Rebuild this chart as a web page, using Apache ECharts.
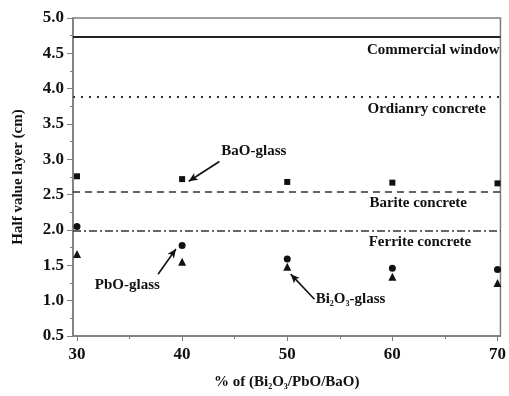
<!DOCTYPE html>
<html>
<head>
<meta charset="utf-8">
<script src="https://cdn.jsdelivr.net/npm/echarts@6/dist/echarts.min.js"></script>
<style>
  html, body { margin: 0; padding: 0; background: #fff; }
  #chart { width: 509px; height: 396px; }
</style>
</head>
<body>
<div id="chart"></div>
<script>
// composition (% of Bi2O3 / PbO / BaO)
var compositions = [30, 40, 50, 60, 70];
// half value layer (cm) for each glass
var baoGlass = [2.76, 2.72, 2.68, 2.67, 2.66];
var pboGlass = [2.05, 1.78, 1.59, 1.46, 1.44];
var biGlass  = [1.66, 1.55, 1.48, 1.34, 1.25];

// reference materials
var refNames  = ['Commercial window', 'Ordianry concrete', 'Barite concrete', 'Ferrite concrete'];
var refValues = [4.74, 3.88, 2.54, 1.99];

var xTicks = [30, 40, 50, 60, 70];
var xMinorTicks = [35, 45, 55, 65];

var FONT = '"Liberation Serif", "DejaVu Serif", serif';
var AXIS_COLOR = '#7d7d7d';

document.addEventListener('DOMContentLoaded', function () {
    var dom = document.getElementById('chart');
    var chart = echarts.init(dom, null, { renderer: 'canvas' });

    function pairs(vals) {
        return compositions.map(function (c, i) { return [c, vals[i]]; });
    }

    // line styles of the reference lines
    var refStyles = [
        { type: 'solid', width: 2, color: '#222' },
        { type: [2, 6], width: 2, color: '#333' },
        { type: [7, 5], width: 1.6, color: '#333' },
        { type: [8, 3, 2, 3], width: 1.6, color: '#333' }
    ];
    var refMarks = refValues.map(function (v, i) {
        return { yAxis: v, lineStyle: refStyles[i] };
    });

    // arrows pointing at the glass series (data coords: tail -> head)
    var arrows = [
        [[43.55, 2.97], [40.63, 2.69]],
        [[37.71, 1.375], [39.41, 1.73]],
        [[52.59, 1.02], [50.33, 1.375]]
    ];
    var arrowMarks = arrows.map(function (a) {
        return [
            { coord: a[0], symbol: 'none' },
            { coord: a[1], symbol: 'arrow', symbolSize: [6, 9] }
        ];
    });

    var markerStyle = { color: '#111', opacity: 1 };

    var option = {
        animation: false,
        grid: {
            left: 73, right: 4, top: 18, bottom: 59,
            show: true, borderColor: AXIS_COLOR, borderWidth: 1.5
        },
        xAxis: [
            {
                type: 'value',
                min: 29.62, max: 70.28,
                axisLine: { show: true, lineStyle: { color: AXIS_COLOR, width: 1.5 } },
                axisTick: { show: true, customValues: xTicks, length: 5, lineStyle: { color: AXIS_COLOR } },
                axisLabel: {
                    customValues: xTicks, margin: 10,
                    fontFamily: FONT, fontWeight: 'bold', fontSize: 17, color: '#111'
                },
                splitLine: { show: false },
                name: '% of (Bi{sub|2}O{sub|3}/PbO/BaO)',
                nameLocation: 'middle',
                nameGap: 38,
                nameTextStyle: {
                    fontFamily: FONT, fontWeight: 'bold', fontSize: 15, color: '#111',
                    rich: { sub: { fontFamily: FONT, fontWeight: 'bold', fontSize: 8, color: '#111', verticalAlign: 'bottom', padding: [9, 0, 0, 0] } }
                }
            },
            {
                type: 'value',
                min: 29.62, max: 70.28,
                position: 'bottom',
                axisLine: { show: false },
                axisTick: { show: true, customValues: xMinorTicks, length: 3, lineStyle: { color: AXIS_COLOR } },
                axisLabel: { show: false },
                splitLine: { show: false }
            }
        ],
        yAxis: {
            type: 'value',
            min: 0.5, max: 5.0, interval: 0.5,
            axisLine: { show: true, lineStyle: { color: AXIS_COLOR, width: 1.5 } },
            axisTick: { show: true, length: 6, lineStyle: { color: AXIS_COLOR } },
            minorTick: { show: true, splitNumber: 2, length: 3, lineStyle: { color: AXIS_COLOR } },
            axisLabel: {
                margin: 9,
                formatter: function (v) { return v.toFixed(1); },
                fontFamily: FONT, fontWeight: 'bold', fontSize: 17, color: '#111'
            },
            splitLine: { show: false },
            name: 'Half value layer (cm)',
            nameLocation: 'middle',
            nameGap: 47,
            nameTextStyle: { fontFamily: FONT, fontWeight: 'bold', fontSize: 15, color: '#111' }
        },
        series: [
            {
                name: 'BaO-glass',
                type: 'scatter',
                symbol: 'rect',
                symbolSize: 6,
                itemStyle: markerStyle,
                clip: false,
                data: pairs(baoGlass),
                markLine: {
                    silent: true,
                    symbol: 'none',
                    label: { show: false },
                    data: refMarks.concat(arrowMarks),
                    lineStyle: { color: '#111', width: 1.6, type: 'solid' }
                }
            },
            {
                name: 'PbO-glass',
                type: 'scatter',
                symbol: 'circle',
                symbolSize: 7,
                itemStyle: markerStyle,
                clip: false,
                data: pairs(pboGlass)
            },
            {
                name: 'Bi2O3-glass',
                type: 'scatter',
                symbol: 'triangle',
                symbolSize: 8,
                itemStyle: markerStyle,
                clip: false,
                data: pairs(biGlass)
            }
        ]
    };
    chart.setOption(option);

    // text annotations anchored in data coordinates
    var refLabelX = [70.2, 68.9, 67.1, 67.5];
    var refLabelDy = [-0.2, -0.17, -0.16, -0.165];
    var annotations = refNames.map(function (n, i) {
        return { text: n, at: [refLabelX[i], refValues[i] + refLabelDy[i]], align: 'right' };
    });
    annotations.push({ text: 'BaO-glass', at: [43.73, 3.11], align: 'left' });
    annotations.push({ text: 'PbO-glass', at: [31.7, 1.22], align: 'left' });
    annotations.push({ text: 'Bi{sub|2}O{sub|3}-glass', at: [52.7, 1.02], align: 'left' });

    var graphics = annotations.map(function (a) {
        var p = chart.convertToPixel({ xAxisIndex: 0, yAxisIndex: 0 }, a.at);
        return {
            type: 'text',
            x: p[0], y: p[1],
            silent: true,
            style: {
                text: a.text,
                align: a.align,
                verticalAlign: 'middle',
                font: 'bold 15px ' + FONT,
                fill: '#111',
                rich: { sub: { font: 'bold 8px ' + FONT, fill: '#111', verticalAlign: 'bottom', padding: [9, 0, 0, 0] } }
            }
        };
    });
    chart.setOption({ graphic: graphics });

    window.addEventListener('resize', function () { chart.resize(); });
});
</script>
</body>
</html>
